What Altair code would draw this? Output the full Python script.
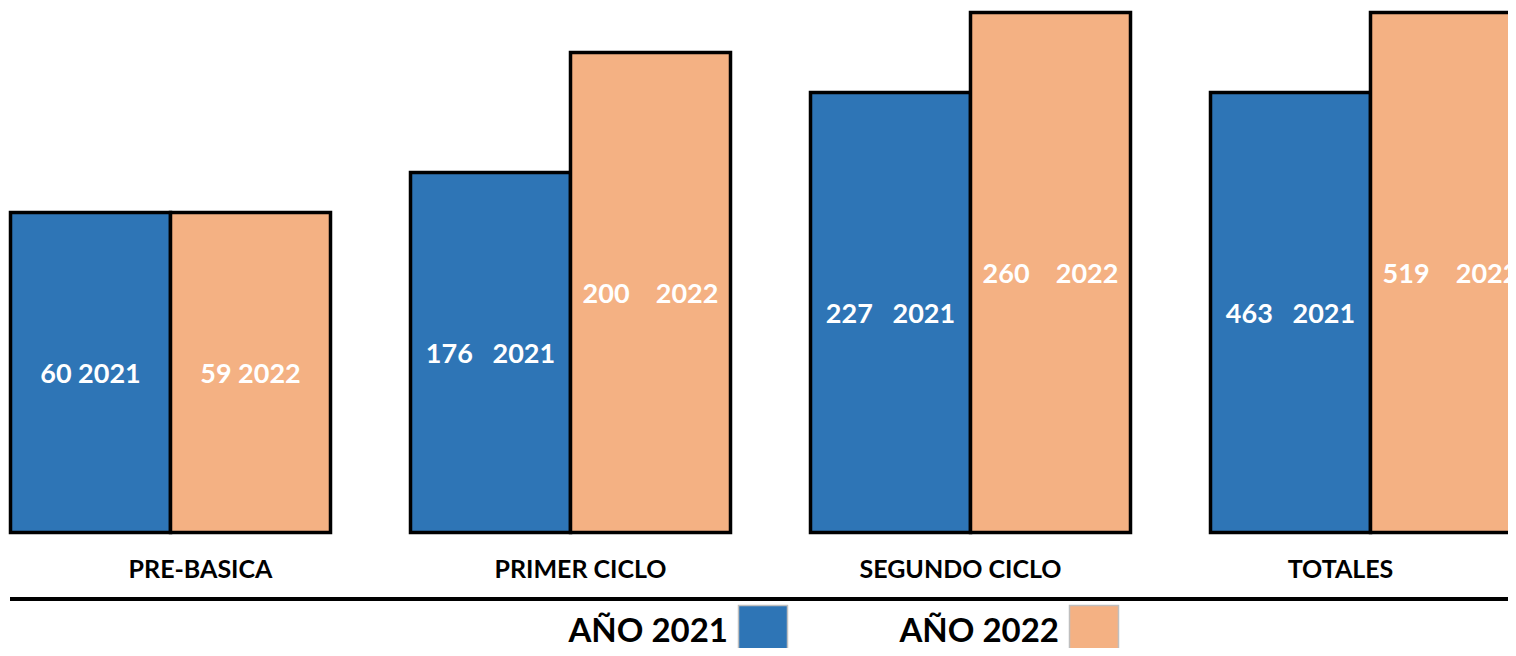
import altair as alt
import pandas as pd

# ---- data ----
categories = ["PRE-BASICA", "PRIMER CICLO", "SEGUNDO CICLO", "TOTALES"]
years = ["2021", "2022"]
values_2021 = [60, 176, 227, 463]
values_2022 = [59, 200, 260, 519]
# drawn bar heights (the picture's bars are not proportional to the labels)
bar_heights_2021 = [8, 9, 11, 11]
bar_heights_2022 = [8, 12, 13, 13]
# number of spaces between value and year inside each label
gaps_2021 = [1, 3, 3, 3]
gaps_2022 = [1, 4, 4, 4]
legend_labels = ["AÑO 2021", "AÑO 2022"]
colors = ["#2E75B6", "#F4B183"]

NB = "\u00a0"
rows = []
for i, c in enumerate(categories):
    rows.append(dict(cat=c, year="2021", value=values_2021[i], h=bar_heights_2021[i],
                     label=f"{values_2021[i]}{NB * gaps_2021[i]}2021"))
    rows.append(dict(cat=c, year="2022", value=values_2022[i], h=bar_heights_2022[i],
                     label=f"{values_2022[i]}{NB * gaps_2022[i]}2022"))
df = pd.DataFrame(rows)
cat_df = pd.DataFrame({"cat": categories})
legend_df = pd.DataFrame({"year": years, "label": legend_labels})

FONT = "Lato"
W, H = 1500, 640

color_scale = alt.Scale(domain=years, range=colors)
x_scale = alt.Scale(domain=categories, range=[2.5, 1522.5], paddingInner=0.2, paddingOuter=0)
xoff_scale = alt.Scale(domain=years, paddingInner=0, paddingOuter=0)
y_scale = alt.Scale(domain=[0, 13], range=[524.5, 4.5], nice=False, zero=True)

x_enc = alt.X("cat:N", scale=x_scale, axis=None)
xo_enc = alt.XOffset("year:N", scale=xoff_scale)

bars = alt.Chart(df).mark_bar(stroke="black", strokeWidth=3.5, clip=True).encode(
    x=x_enc,
    xOffset=xo_enc,
    y=alt.Y("h:Q", scale=y_scale, axis=None),
    color=alt.Color("year:N", scale=color_scale, legend=None),
)

labels = alt.Chart(df).transform_calculate(mid="datum.h / 2").mark_text(
    font=FONT, fontWeight="bold", fontSize=27, color="white", baseline="middle", dy=2, clip=True
).encode(
    x=x_enc,
    xOffset=xo_enc,
    y=alt.Y("mid:Q", scale=y_scale, axis=None),
    text="label:N",
)

cat_labels = alt.Chart(cat_df).mark_text(
    font=FONT, fontWeight="bold", fontSize=25, color="black", baseline="alphabetic"
).encode(
    x=alt.X("cat:N", scale=x_scale, axis=None),
    y=alt.value(569.5),
    text="cat:N",
)

rule = alt.Chart(cat_df).mark_rule(color="black", strokeWidth=4).encode(
    x=alt.value(2), x2=alt.value(W), y=alt.value(591)
)

legend_scale = alt.Scale(domain=years, range=[755, 1086], padding=0)
legend_sq = alt.Chart(legend_df).mark_square(
    size=2401, opacity=1, stroke="#BFBFBF", strokeWidth=1.5
).encode(
    x=alt.X("year:N", scale=legend_scale, axis=None),
    y=alt.value(622),
    color=alt.Color("year:N", scale=color_scale, legend=None),
)
legend_txt = alt.Chart(legend_df).mark_text(
    font=FONT, fontWeight="bold", fontSize=33, color="black", align="right",
    baseline="alphabetic", dx=-35
).encode(
    x=alt.X("year:N", scale=legend_scale, axis=None),
    y=alt.value(634),
    text="label:N",
)

chart = alt.layer(bars, labels, cat_labels, rule, legend_sq, legend_txt).resolve_scale(
    x="independent"
).properties(
    width=W, height=H, padding=0, autosize=alt.AutoSizeParams(type="none")
).configure_view(stroke=None)

chart.save("out.html", embed_options={"renderer": "svg", "actions": False})
